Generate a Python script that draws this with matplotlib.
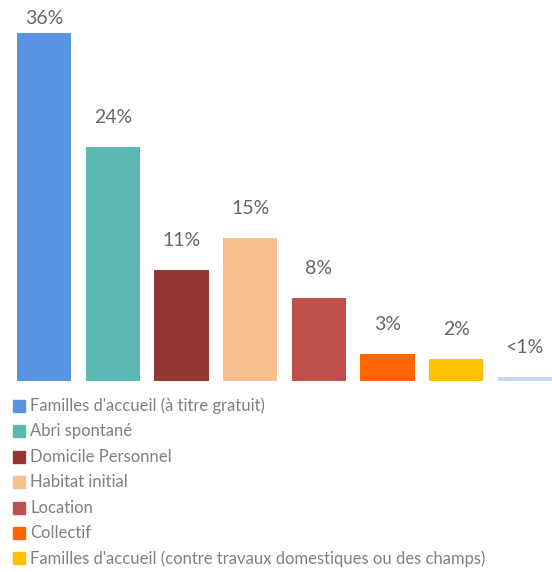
import matplotlib
matplotlib.use("Agg")
import matplotlib.pyplot as plt
from matplotlib.patches import Rectangle

plt.rcParams['font.family'] = ['Lato', 'DejaVu Sans']

categories = [
    "Familles d'accueil (à titre gratuit)",
    "Abri spontané",
    "Domicile Personnel",
    "Habitat initial",
    "Location",
    "Collectif",
    "Familles d'accueil (contre travaux domestiques ou des champs)",
    "Autre",
]
values = [36, 24.2, 11.5, 14.8, 8.6, 2.8, 2.3, 0.4]
labels = ["36%", "24%", "11%", "15%", "8%", "3%", "2%", "<1%"]
colors = ["#5B93E4", "#5CB8B3", "#963634", "#F9C08F", "#C0504D",
          "#FF6600", "#FFC000", "#C6D7F0"]
legend_count = 7

W, H = 552, 572
fig = plt.figure(figsize=(W / 100, H / 100), dpi=100)
ax = fig.add_axes([17 / W, (H - 381) / H, 1 - 17 / W, 381 / H])

ymax = 39.4
x = list(range(len(values)))
ax.bar(x, values, width=0.79, color=colors)
for xi, v, lab in zip(x, values, labels):
    # labels sit above the bar, but are pushed down if they would leave the chart
    ax.text(xi, min(v + 2.5, ymax - 2.5), lab, ha="center", va="baseline",
            fontsize=14, color="#666666")

ax.set_xlim(-0.395, len(values) - 1 + 0.395)
ax.set_ylim(0, ymax)
ax.axis("off")

# legend
for i in range(legend_count):
    yc = 406 + i * 25.4
    fig.patches.append(Rectangle((13 / W, 1 - (yc + 6) / H), 12 / W, 12 / H,
                                 transform=fig.transFigure, color=colors[i]))
    fig.text(30 / W, 1 - yc / H, categories[i], ha="left", va="center",
             fontsize=12, color="#808080")

fig.savefig("out.png", dpi=100)
